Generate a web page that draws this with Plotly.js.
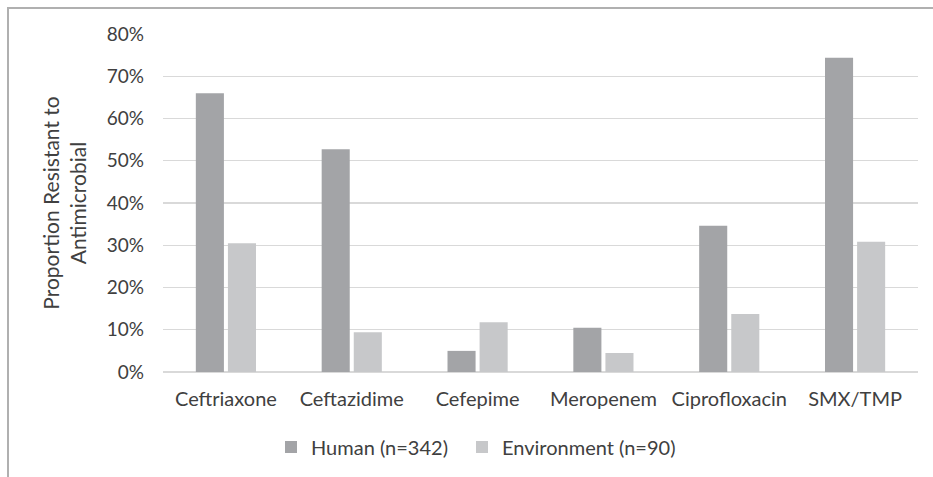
<!DOCTYPE html>
<html>
<head>
<meta charset="utf-8">
<script src="https://cdn.plot.ly/plotly-3.0.1.min.js"></script>
<style>
  html, body { margin: 0; padding: 0; background: #fff; }
  #frame { position: absolute; left: 7px; top: 7px; width: 926px; height: 470px;
           border-left: 2px solid #b0b0b0; border-top: 2px solid #b0b0b0; box-sizing: border-box; }
  #chart { position: absolute; left: 0; top: 0; width: 933px; height: 477px; }
</style>
</head>
<body>
<div id="frame"></div>
<div id="chart"></div>
<script>
const categories = ["Ceftriaxone", "Ceftazidime", "Cefepime", "Meropenem", "Ciprofloxacin", "SMX/TMP"];
const humanValues = [0.660, 0.527, 0.050, 0.105, 0.346, 0.744];
const environmentValues = [0.305, 0.094, 0.118, 0.045, 0.137, 0.308];
const seriesNames = ["Human (n=342)", "Environment (n=90)"];
const yTickValues = [0, 0.1, 0.2, 0.3, 0.4, 0.5, 0.6, 0.7, 0.8];
const yTickLabels = ["0%", "10%", "20%", "30%", "40%", "50%", "60%", "70%", "80%"];

const FONT = "Lato, 'Open Sans', sans-serif";
const TXT = "#404040";

const data = [
  { type: "bar", name: seriesNames[0], x: categories, y: humanValues,
    marker: { color: "#a3a4a7" }, hoverinfo: "x+y", legend: "legend" },
  { type: "bar", name: seriesNames[1], x: categories, y: environmentValues,
    marker: { color: "#c7c8ca" }, hoverinfo: "x+y", legend: "legend2" }
];

const legendBase = {
  orientation: "h", xanchor: "left", xref: "container",
  y: 30 / 477, yanchor: "middle", yref: "container",
  font: { family: FONT, size: 20, color: TXT },
  itemwidth: 30, bgcolor: "rgba(0,0,0,0)"
};

const layout = {
  width: 933, height: 477,
  paper_bgcolor: "rgba(0,0,0,0)", plot_bgcolor: "rgba(0,0,0,0)",
  margin: { l: 163, r: 15, t: 34, b: 105 },
  barmode: "group", bargap: 0.49, bargroupgap: 0.125,
  font: { family: FONT, color: TXT, size: 20 },
  xaxis: {
    type: "category", showgrid: false, zeroline: false, showline: false,
    ticks: "", ticklen: 0, ticklabelstandoff: 13,
    tickfont: { family: FONT, size: 20, color: TXT },
    automargin: false
  },
  yaxis: {
    range: [0, 0.8], tickvals: yTickValues, ticktext: yTickLabels,
    showgrid: true, gridcolor: "#d9d9d9", gridwidth: 1.3,
    zeroline: true, zerolinecolor: "#d9d9d9", zerolinewidth: 1.3,
    showline: false, ticks: "", ticklen: 0, ticklabelstandoff: 18,
    tickfont: { family: FONT, size: 19, color: TXT },
    automargin: false,
    title: { text: "Proportion Resistant to<br>Antimicrobial", standoff: 14,
             font: { family: FONT, size: 21, color: TXT } }
  },
  showlegend: true,
  legend: Object.assign({}, legendBase, { x: 271 / 933 }),
  legend2: Object.assign({}, legendBase, { x: 462 / 933 })
};

Plotly.newPlot("chart", data, layout, { displayModeBar: false, staticPlot: true });
</script>
</body>
</html>
